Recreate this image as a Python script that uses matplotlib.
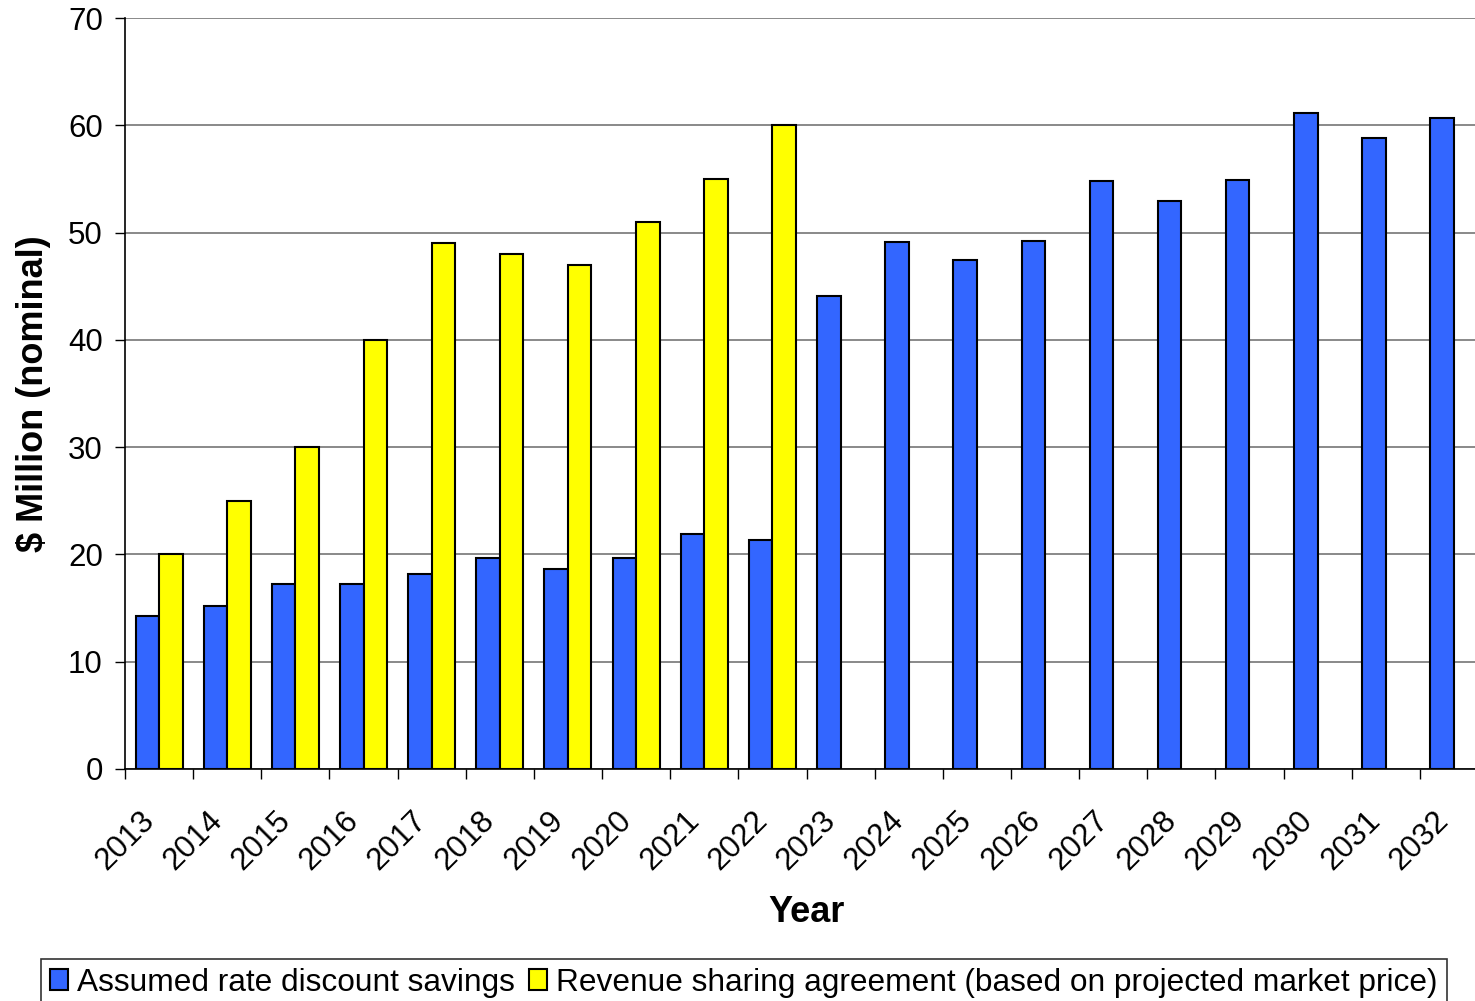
import numpy as np
import matplotlib.pyplot as plt
import matplotlib.transforms as mtransforms

plt.rcParams['font.family'] = ['Liberation Sans', 'DejaVu Sans']

years = [str(y) for y in range(2013, 2033)]
discount = [14.3, 15.2, 17.2, 17.2, 18.2, 19.7, 18.6, 19.7, 21.9, 21.3,
            44.1, 49.1, 47.4, 49.2, 54.8, 52.9, 54.9, 61.1, 58.8, 60.7]
revenue = [20, 25, 30, 40, 49, 48, 47, 51, 55, 60]

fig = plt.figure(figsize=(14.75, 10.01), dpi=100)
ax = fig.add_axes([125/1475, 232/1001, (1488-125)/1475, (769-18)/1001])

x = np.arange(len(years))
w = 0.345
ax.bar(x - w/2, discount, w, color='#3366FF', edgecolor='black', linewidth=1.5,
       label='Assumed rate discount savings', zorder=3)
ax.bar(x[:len(revenue)] + w/2, revenue, w, color='#FFFF00', edgecolor='black', linewidth=1.5,
       label='Revenue sharing agreement (based on projected market price)', zorder=3)

ax.set_xlim(-0.5, len(years) - 0.5)
ax.set_ylim(0, 70)
ax.set_yticks(range(0, 71, 10))
ax.yaxis.grid(True, color='#808080', linewidth=1.3, zorder=0)
ax.set_axisbelow(True)

ax.set_xticks(x)
ax.set_xticklabels(years, rotation=45, ha='right', rotation_mode='anchor', fontsize=22.5)
ax.tick_params(axis='x', length=0, pad=26)
shift = mtransforms.ScaledTranslation(-20/100, 0, fig.dpi_scale_trans)
for lab in ax.get_xticklabels():
    lab.set_transform(lab.get_transform() + shift)
ax.set_xticks(np.arange(-0.5, len(years), 1), minor=True)
ax.tick_params(axis='x', which='minor', length=7, width=1, color='black', direction='out')
ax.tick_params(axis='y', labelsize=22.5, length=7, width=1, direction='out', pad=9)

for s in ['top', 'right']:
    ax.spines[s].set_visible(False)
ax.spines['left'].set_linewidth(1.2)
ax.spines['bottom'].set_linewidth(1.2)

ax.set_xlabel('Year', fontsize=26, fontweight='bold', labelpad=14)
ax.set_ylabel('$ Million (nominal)', fontsize=26, fontweight='bold', labelpad=12)

leg = fig.legend(loc='center', bbox_to_anchor=(744/1475, 1 - 983/1001), ncol=2, fontsize=22.8,
                 frameon=True, fancybox=False, edgecolor='black', handlelength=0.55,
                 handleheight=0.65, handletextpad=0.3, columnspacing=0.45, borderpad=0.3,
                 borderaxespad=0)
leg.get_frame().set_linewidth(1.2)

fig.savefig('out.png', dpi=100)
